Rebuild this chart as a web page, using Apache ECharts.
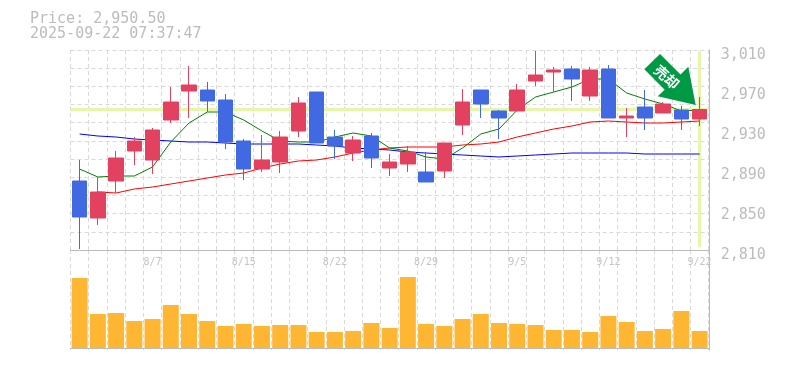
<!DOCTYPE html>
<html><head><meta charset="utf-8">
<style>html,body{margin:0;padding:0;background:#fff}#c{width:785px;height:370px}</style>
<script src="https://cdn.jsdelivr.net/npm/echarts@6/dist/echarts.min.js"></script>
</head><body><div id="c"></div>
<script>
const titleLines = ['Price: 2,950.50', '2025-09-22 07:37:47'];
const dates = ['8/1','8/4','8/5','8/6','8/7','8/8','8/12','8/13','8/14','8/15','8/18','8/19','8/20','8/21','8/22','8/25','8/26','8/27','8/28','8/29','9/1','9/2','9/3','9/4','9/5','9/8','9/9','9/10','9/11','9/12','9/16','9/17','9/18','9/19','9/22'];
const labelDates = ['8/7','8/15','8/22','8/29','9/5','9/12','9/22'];
const priceTicks = [2810,2850,2890,2930,2970,3010];
const lastPrice = 2950.5;
const open  = [2879,2842,2879,2909,2900,2940,2969,2970,2960,2919,2891,2898,2929,2968,2923,2907,2924,2892,2896,2888,2889,2935,2970,2949,2949,2979,2988,2991,2964,2991,2942,2953,2947,2950,2941];
const close = [2843,2868,2902,2919,2930,2958,2975,2959,2918,2891,2900,2923,2957,2917,2914,2920,2902,2898,2908,2878,2917,2958,2956,2942,2970,2985,2990,2981,2990,2942,2944,2942,2956,2941,2950.5];
const low   = [2811,2835,2867,2895,2886,2937,2942,2948,2911,2880,2888,2887,2923,2917,2901,2899,2892,2884,2888,2878,2882,2925,2942,2921,2949,2974,2968,2959,2959,2942,2923,2930,2947,2930,2934];
const high  = [2900,2883,2909,2923,2932,2973,2994,2978,2966,2921,2925,2929,2963,2968,2930,2924,2927,2906,2914,2908,2917,2971,2970,2950,2976,3009,2993,2994,2993,2995,2952,2970,2958,2954,2963];
const volume = [70,34,35,27,29,43,34,27,22,24,22,23,23,16,16,17,25,20,71,24,22,29,34,25,24,23,18,18,16,32,26,17,19,37,17];
const maShort = [2891,2883,2884,2884,2893,2918,2937,2948,2948,2940,2929,2919,2918,2918,2923,2927,2924,2912,2909,2903,2901,2912,2926,2931,2950,2963,2968,2973,2981,2981,2967,2961,2956,2949,2950];
const maMid = [null,2868,2867,2871,2873,2876,2879,2882,2885,2887,2892,2896,2899,2900,2903,2907,2910,2912,2913,2913,2913,2915,2916,2918,2923,2927,2931,2934,2938,2939,2938,2937,2937,2938,2939];
const maLong = [2926,2924,2923,2921,2920,2919,2918,2918,2917,2916,2916,2916,2916,2915,2914,2912,2911,2910,2908,2907,2906,2905,2904,2903,2904,2905,2906,2907,2907,2907,2907,2906,2906,2906,2906];

const font = '"DejaVu Sans Mono", monospace';
const grey = '#bcbcbc';
const gridDash = {color:'#d9d9d9', type:[4,3], width:1};
const isLabel = i => labelDates.includes(dates[i]);
const line = (name,data,color) => ({name,type:'line',data,xAxisIndex:0,yAxisIndex:0,showSymbol:false,z:3,
  lineStyle:{color,width:1},itemStyle:{color},silent:true,animation:false});

const chart = echarts.init(document.getElementById('c'),null,{renderer:'canvas'});
chart.setOption({
  animation:false,
  title:{text:titleLines.join('\n'),left:30,top:12,padding:0,
    textStyle:{fontFamily:font,fontSize:15,fontWeight:'normal',color:grey,lineHeight:15}},
  grid:[
    {left:70.5,width:638.2,top:50,height:200},
    {left:70.5,width:638.2,top:250,height:100}
  ],
  xAxis:[
    {type:'category',gridIndex:0,data:dates,boundaryGap:true,
      axisLine:{show:true,lineStyle:{color:'#bbbbbb'}},axisTick:{show:false},
      splitLine:{show:true,interval:0,lineStyle:gridDash},
      axisLabel:{show:true,interval:(i)=>isLabel(i),color:'#c4c4c4',fontFamily:font,fontSize:10,margin:7,hideOverlap:false}},
    {type:'category',gridIndex:1,data:dates,boundaryGap:true,
      axisLine:{show:true,lineStyle:{color:'#bbbbbb'}},axisTick:{show:false},
      splitLine:{show:true,interval:0,lineStyle:gridDash},axisLabel:{show:false}}
  ],
  yAxis:[
    {type:'value',gridIndex:0,position:'right',min:2810,max:3010,offset:1,
      axisLine:{show:true,lineStyle:{color:'#bbbbbb'}},axisTick:{show:false},splitLine:{show:false},
      axisLabel:{customValues:priceTicks,color:grey,fontFamily:font,fontSize:15,margin:11,
        verticalAlign:'top',lineHeight:10,formatter:v=>v.toLocaleString('en-US')}},
    {type:'value',gridIndex:0,position:'left',min:0,max:11,interval:1,
      axisLine:{show:false},axisTick:{show:false},axisLabel:{show:false},
      splitLine:{show:true,lineStyle:gridDash}},
    {type:'value',gridIndex:1,position:'right',min:-2,max:98,offset:1,
      axisLine:{show:true,lineStyle:{color:'#bbbbbb'}},axisTick:{show:false},axisLabel:{show:false},splitLine:{show:false}}
  ],
  series:[
    line('MA long',maLong,'#0000ff'),
    line('MA mid',maMid,'#ff0000'),
    line('MA short',maShort,'#008000'),
    {name:'Price',type:'candlestick',xAxisIndex:0,yAxisIndex:0,z:5,barWidth:15,silent:true,
      data:open.map((o,i)=>[o,close[i],low[i],high[i]]),
      itemStyle:{color:'#e2415f',color0:'#4169e1',borderColor:'#e2415f',borderColor0:'#4169e1',borderWidth:1},
      markLine:{silent:true,symbol:'none',z:2,label:{show:false},animation:false,
        lineStyle:{color:'#e5f6a9',type:'solid',width:3},
        data:[
          {yAxis:lastPrice},
          [{coord:[dates[34],3009]},{coord:[dates[34],2813]}]
        ]}},
    {name:'Volume',type:'bar',xAxisIndex:1,yAxisIndex:2,data:volume,barWidth:16,silent:true,
      itemStyle:{color:'#ffb733'}}
  ],
  graphic:[
    {type:'polygon',z:50,silent:true,
      shape:{points:[[660,54],[644.3,69.3],[664.7,89.7],[657.7,96.2],[695.7,105],[688.3,66.7],[680.5,74.5]]},
      style:{fill:'#009944'}},
    {type:'text',z:51,silent:true,x:666.7,y:77,rotation:-0.72,originX:0,originY:0,
      style:{text:'売却',fill:'#fff',font:'bold 14px "Noto Sans CJK JP"',align:'center',verticalAlign:'middle'}}
  ]
});
</script></body></html>
